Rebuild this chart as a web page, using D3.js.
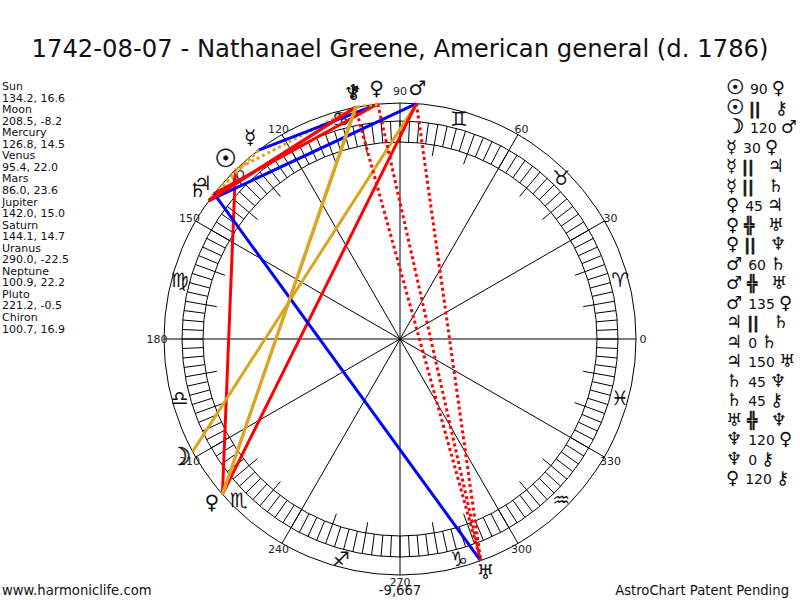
<!DOCTYPE html>
<html><head><meta charset="utf-8"><script src="https://cdn.jsdelivr.net/npm/d3@7/dist/d3.min.js"></script>
<style>html,body{margin:0;background:#fff}svg{display:block}text{font-family:"DejaVu Sans";fill:#111}</style></head><body><svg id="c" width="800" height="600"></svg>
<script>
const titleText="1742-08-07 - Nathanael Greene, American general (d. 1786)";
const planets=["Sun","Moon","Mercury","Venus","Mars","Jupiter","Saturn","Uranus","Neptune","Pluto","Chiron"];
const longitudes=[134.2,208.5,126.8,95.4,86.0,142.0,144.1,290.0,100.9,221.2,100.7];
const latitudes=["16.6","-8.2","14.5","22.0","23.6","15.0","14.7","-22.5","22.2","-0.5","16.9"];
const planetGlyphs=["☉","☽","☿","♀","♂","♃","♄","♅","♆","♀","⚷"];
const signGlyphs=["♈","♉","♊","♋","♌","♍","♎","♏","♐","♑","♒","♓"];
const aspectA=["Sun","Sun","Moon","Mercury","Mercury","Mercury","Venus","Venus","Venus","Mars","Mars","Mars","Jupiter","Jupiter","Jupiter","Saturn","Saturn","Uranus","Neptune","Neptune","Pluto"];
const aspectB=["Pluto","Chiron","Mars","Venus","Jupiter","Saturn","Jupiter","Uranus","Neptune","Saturn","Uranus","Pluto","Saturn","Saturn","Uranus","Neptune","Chiron","Neptune","Pluto","Chiron","Chiron"];
const aspectKind=["90","par","120","30","par","par","45","con","par","60","con","135","par","0","150","45","45","con","120","0","120"];
const kindColor={"0":"#daa520","30":"#0000ff","45":"#ff0000","60":"#0000ff","90":"#ff0000","120":"#daa520","135":"#ff0000","150":"#0000ff",par:"#daa520",con:"#ff0000"};
const degreeLabels=[0,30,60,90,120,150,180,210,240,270,300,330];
const svg=d3.select("#c");
const cx=400,cy=339;
const pt=(deg,rad)=>[cx+rad*Math.cos(deg*Math.PI/180),cy-rad*Math.sin(deg*Math.PI/180)];
svg.append("text").attr("x",400).attr("y",57).attr("text-anchor","middle").attr("font-size",24.3).text(titleText);
planets.forEach((p,i)=>{
 svg.append("text").attr("x",2).attr("y",90+i*2*11.55).attr("font-size",11).text(p);
 svg.append("text").attr("x",2).attr("y",90+(i*2+1)*11.55).attr("font-size",11).text(longitudes[i].toFixed(1)+", "+latitudes[i]);
});
const g=svg.append("g").attr("fill","none").attr("stroke","#000").attr("stroke-width",1);
[236,218,197].forEach(R=>g.append("circle").attr("cx",cx).attr("cy",cy).attr("r",R));
const seg=(deg,a,b)=>{const p=pt(deg,a),q=pt(deg,b);g.append("line").attr("x1",p[0]).attr("y1",p[1]).attr("x2",q[0]).attr("y2",q[1]);};
d3.range(0,360,2.5).forEach(d=>seg(d,197,218));
d3.range(0,360,10).forEach(d=>{ if(d%30) seg(d,186,197); });
degreeLabels.forEach(d=>{seg(d,0,236);
 const p=pt(d,243);
 svg.append("text").attr("x",p[0]).attr("y",p[1]+(d==90?-1:4)).attr("text-anchor","middle").attr("font-size",11).style("fill","#222").text(d);
});
signGlyphs.forEach((s,i)=>{const p=pt(15+i*30,228);
 svg.append("text").attr("x",p[0]).attr("y",p[1]+7).attr("text-anchor","middle").attr("font-size",20).text(s);});
const lon=n=>longitudes[planets.indexOf(n)];
aspectA.forEach((a,i)=>{const k=aspectKind[i],p=pt(lon(a),236),q=pt(lon(aspectB[i]),236);
 const l=svg.append("line").attr("x1",p[0]).attr("y1",p[1]).attr("x2",q[0]).attr("y2",q[1]).attr("stroke",kindColor[k]).attr("stroke-width",3);
 if(k==="par"||k==="con") l.attr("stroke-dasharray","3,3");
});
planets.forEach((n,i)=>{const p=pt(longitudes[i],250);
 const big=i<2;
 svg.append("text").attr("x",p[0]).attr("y",p[1]+(big?7:5)).attr("text-anchor","middle").attr("font-size",big?25:20)
  .style("stroke",big?"#111":"none").style("stroke-width",big?0.5:0).text(planetGlyphs[i]);});
aspectA.forEach((a,i)=>{
 const y=94+i*19.5,k=aspectKind[i],sym=k==="par"||k==="con";
 const t=svg.append("text").attr("x",726).attr("y",y);
 const big=a==="Sun"||a==="Moon";
 t.append("tspan").attr("font-size",big?20:18).style("stroke",big?"#111":"none").style("stroke-width",big?0.5:0).text(planetGlyphs[planets.indexOf(a)]);
 const lab=k==="par"?"||":k==="con"?"╬":k;
 const s=t.append("tspan").attr("dx",sym?5:6).attr("font-size",sym?16:14).text(lab);
 if(sym) s.attr("font-weight","bold").style("stroke","#111").style("stroke-width",0.7);
 t.append("tspan").attr("dx",sym?14:4).attr("font-size",18).text(planetGlyphs[planets.indexOf(aspectB[i])]);
});
svg.append("text").attr("x",2).attr("y",595).attr("font-size",13.2).text("www.harmoniclife.com");
svg.append("text").attr("x",400).attr("y",595).attr("text-anchor","middle").attr("font-size",13.2).text("-9,667");
svg.append("text").attr("x",789).attr("y",595).attr("text-anchor","end").attr("font-size",13.2).text("AstroChart Patent Pending");
</script></body></html>
